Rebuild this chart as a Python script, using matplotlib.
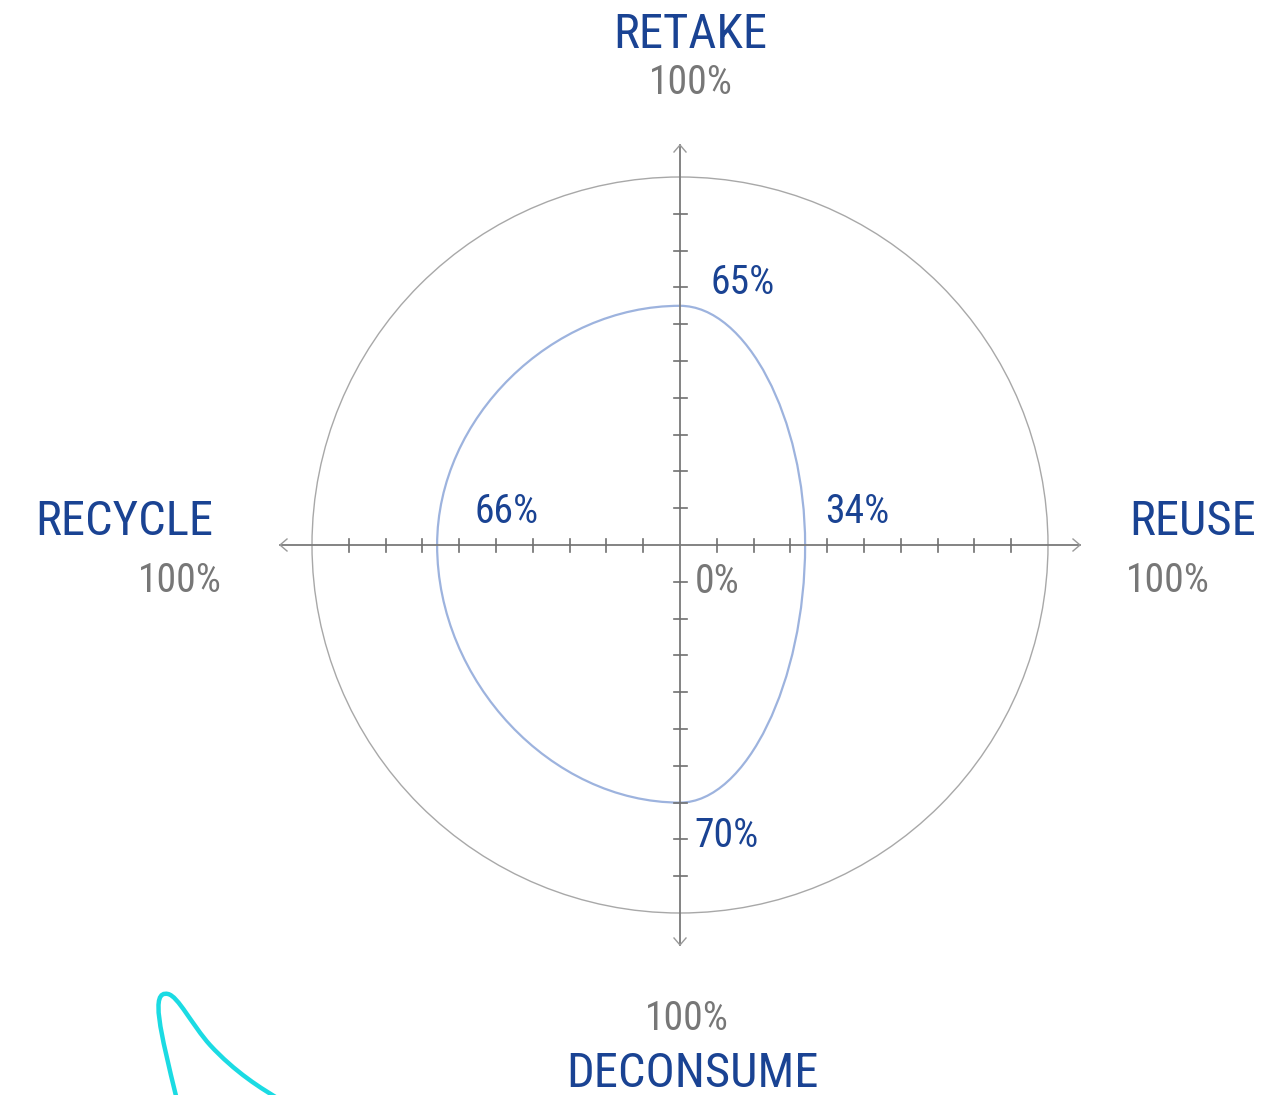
import numpy as np
import matplotlib
matplotlib.use("Agg")
import matplotlib.pyplot as plt
from matplotlib import font_manager
from matplotlib.path import Path
from matplotlib.patches import PathPatch, Circle

# Data: four directions, values in percent
categories = ["RETAKE", "REUSE", "DECONSUME", "RECYCLE"]
angles_deg = [90, 0, 270, 180]
values = [65, 34, 70, 66]
max_value = 100
tick_step = 10

# Figure geometry (pixels)
W, H = 1269, 1095
CX, CY, R = 680, 545, 368   # centre and radius of the 100% circle in pixels
AXIS_EXT = 400 / 368        # axis arrows reach a bit past the circle
ROUND = 0.53                # bezier handle factor for the rounded outline

BLUE = "#1a4393"
GRAY_TXT = "#777777"
CURVE = "#9db3de"
CYAN = "#1bdbe3"

# pick a narrow sans if one is around, else condensed DejaVu
installed = {f.name for f in font_manager.fontManager.ttflist}
for fam in ["Liberation Sans Narrow", "Roboto Condensed", "Open Sans Condensed", "DejaVu Sans"]:
    if fam in installed:
        break
plt.rcParams["font.family"] = [fam, "DejaVu Sans"]
plt.rcParams["font.stretch"] = "condensed"

NAME_SIZE = 35
NUM_SIZE = 28.5


def px(x, y):
    # pixel position -> data coords (1.0 == 100%)
    return (x - CX) / R, (CY - y) / R


fig = plt.figure(figsize=(W / 100, H / 100), dpi=100)
ax = fig.add_axes([0, 0, 1, 1])
x0, y1 = px(0, 0)
x1, y0 = px(W, H)
ax.set_xlim(x0, x1)
ax.set_ylim(y0, y1)
ax.axis("off")

# outer 100% circle
ax.add_patch(Circle((0, 0), 1.0, fill=False, ec="#a8a8a8", lw=1.0))

# axes with ticks and open arrowheads
tick = 6.5 / R
ah_l, ah_w = 7 / R, 6 / R
ax.plot([-AXIS_EXT, AXIS_EXT], [0, 0], color="#7a7a7a", lw=1.3)
ax.plot([0, 0], [-AXIS_EXT, AXIS_EXT], color="#7a7a7a", lw=1.3)
for t in np.arange(tick_step, max_value, tick_step) / max_value:
    for s in (-1, 1):
        ax.plot([s * t, s * t], [-tick, tick], color="#707070", lw=1.2)
        ax.plot([-tick, tick], [s * t, s * t], color="#707070", lw=1.2)
for s in (-1, 1):
    e = s * AXIS_EXT
    ax.plot([e - s * ah_l, e, e - s * ah_l], [ah_w, 0, -ah_w], color="#9a9a9a", lw=1.0)
    ax.plot([ah_w, 0, -ah_w], [e - s * ah_l, e, e - s * ah_l], color="#9a9a9a", lw=1.0)

# data points and a rounded closed outline through them
r = np.array(values) / max_value
th = np.deg2rad(angles_deg)
pts = np.column_stack([r * np.cos(th), r * np.sin(th)])
n = len(pts)
verts = [pts[0]]
codes = [Path.MOVETO]
for i in range(n):
    p1, p2 = pts[i], pts[(i + 1) % n]
    verts += [p1 + ROUND * p2, p2 + ROUND * p1, p2]
    codes += [Path.CURVE4] * 3
ax.add_patch(PathPatch(Path(verts, codes), fill=False, ec=CURVE, lw=1.6))

# value labels (offset in pixels from each point)
val_offsets = {"RETAKE": (63, 12), "REUSE": (52, 22), "DECONSUME": (47, -44), "RECYCLE": (69, 22)}
for cat, v, p in zip(categories, values, pts):
    ax.annotate(f"{v}%", p, xytext=val_offsets[cat], textcoords="offset pixels",
                ha="center", va="baseline", fontsize=NUM_SIZE, color=BLUE)
ax.annotate("0%", (0, 0), xytext=(37, -48), textcoords="offset pixels",
            ha="center", va="baseline", fontsize=NUM_SIZE, color=GRAY_TXT)

# category names and 100% marks (pixel anchors: name centre/baseline, 100% centre/baseline)
name_pos = {"RETAKE": (690, 48), "REUSE": (1193, 535), "DECONSUME": (692, 1087), "RECYCLE": (124, 535)}
full_pos = {"RETAKE": (691, 94), "REUSE": (1168, 592), "DECONSUME": (687, 1030), "RECYCLE": (180, 592)}
for cat in categories:
    ax.text(*px(*name_pos[cat]), cat, ha="center", va="baseline", fontsize=NAME_SIZE, color=BLUE)
    ax.text(*px(*full_pos[cat]), f"{max_value}%", ha="center", va="baseline",
            fontsize=NUM_SIZE, color=GRAY_TXT)

# decorative cyan stroke in bottom-left corner
deco = [(177, 1100), (160, 1030), (150, 990), (168, 994),
        (178, 996), (192, 1025), (210, 1045),
        (235, 1072), (260, 1088), (284, 1102)]
deco_codes = [Path.MOVETO] + [Path.CURVE4] * 9
ax.add_patch(PathPatch(Path([px(*q) for q in deco], deco_codes), fill=False,
                       ec=CYAN, lw=3.2, capstyle="round", clip_on=False))

fig.savefig("out.png", dpi=100)
